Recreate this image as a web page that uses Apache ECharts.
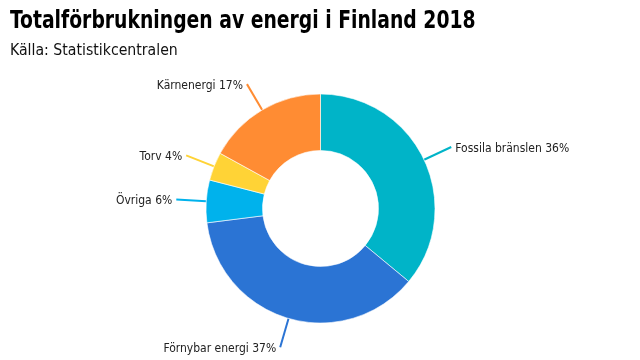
<!DOCTYPE html>
<html><head><meta charset="utf-8">
<script src="https://cdn.jsdelivr.net/npm/echarts@6/dist/echarts.min.js"></script>
<style>html,body{margin:0;padding:0;background:#fff}#c{width:640px;height:360px}</style>
</head><body><div id="c"></div>
<script>
const categories = ["Fossila bränslen", "Förnybar energi", "Övriga", "Torv", "Kärnenergi"];
const values = [36, 37, 6, 4, 17];
const colors = ["#00b4c8", "#2b74d4", "#00b2ec", "#ffd336", "#ff8c33"];
const titleText = "Totalförbrukningen av energi i Finland 2018";
const subText = "Källa: Statistikcentralen";
const titleFont = "'DejaVu Sans Condensed', 'Roboto Condensed', sans-serif";
const textFont = "'DejaVu Sans Condensed', 'Open Sans', sans-serif";

const chart = echarts.init(document.getElementById('c'));
chart.setOption({
  animation: false,
  graphic: [
    { type: "text", x: 10, y: 10, scaleX: 0.87,
      style: { text: titleText, font: "bold 24px " + titleFont, fill: "#000", verticalAlign: "top" } },
    { type: "text", x: 10, y: 43, scaleX: 0.98,
      style: { text: subText, font: "16px " + textFont, fill: "#111", verticalAlign: "top" } }
  ],
  series: [{
    type: "pie",
    center: [320.5, 208.5],
    radius: [58, 114.5],
    startAngle: 90,
    clockwise: true,
    avoidLabelOverlap: false,
    itemStyle: { borderColor: "#fff", borderWidth: 0.6 },
    label: {
      formatter: p => "{a|" + p.name + " " + p.value + "%}",
      rich: { a: { fontFamily: textFont, fontSize: 12, color: "#222", padding: [3, 0, 0, 0] } },
      distanceToLabelLine: 4
    },
    labelLine: { length: 30, length2: 0, lineStyle: { width: 2 } },
    data: categories.map((c, i) => ({ name: c, value: values[i], itemStyle: { color: colors[i] }, labelLine: { lineStyle: { color: colors[i] } } }))
  }]
});
</script></body></html>
